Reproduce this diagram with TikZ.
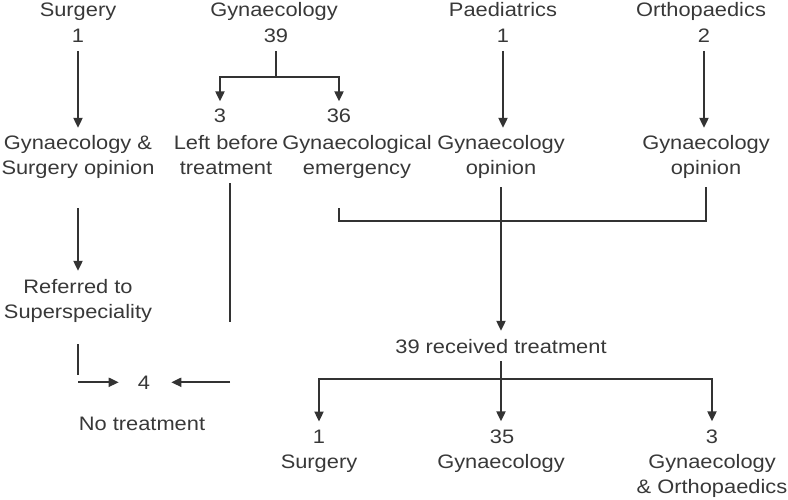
\documentclass[tikz,border=0pt]{standalone}
\usepackage{fontspec}
\setmainfont{Liberation Sans}[FakeStretch=1.12]
\usetikzlibrary{arrows.meta,positioning}
\definecolor{ink}{HTML}{333333}
\definecolor{txtgray}{HTML}{383838}

\begin{document}
\begin{tikzpicture}[
  x=1pt, y=-1pt,
  font=\fontsize{19.5}{25}\selectfont,
  lbl/.style={anchor=base, align=center, inner sep=0pt, outer ysep=8pt, text=txtgray},
  line/.style={draw=ink, line width=1.9pt},
  arr/.style={line, -{Triangle[length=10pt,width=9pt]}},
]
\useasboundingbox (0,0) rectangle (788,500);

% referring departments
\node[lbl] (surg) at (78,17) {Surgery};
\node[lbl] (surgN) at (78,43) {1};
\node[lbl] (gyn) at (274,17) {Gynaecology};
\node[lbl] (gynN) at (276,43) {39};
\node[lbl] (paed) at (503,17) {Paediatrics};
\node[lbl] (paedN) at (503,43) {1};
\node[lbl] (orth) at (701,17) {Orthopaedics};
\node[lbl] (orthN) at (704,43) {2};

% second row (base = last line)
\node[lbl] (surgop) at (78,175) {Gynaecology \&\\Surgery opinion};
\node[lbl] (g3) at (220,123) {3};
\node[lbl] (left) at (226,175) {Left before\\treatment};
\node[lbl] (g36) at (339,123) {36};
\node[lbl] (emerg) at (357,175) {Gynaecological\\emergency};
\node[lbl] (paop) at (501,175) {Gynaecology\\opinion};
\node[lbl] (orop) at (706,175) {Gynaecology\\opinion};

% outcome
\node[lbl] (ref) at (78,318) {Referred to\\Superspeciality};
\node[lbl] (four) at (144,389) {4};
\node[lbl] (notreat) at (142,430) {No treatment};
\node[lbl] (recv) at (501,353) {39 received treatment};
\node[lbl] (r1) at (319,443) {1};
\node[lbl] (r35) at (502,443) {35};
\node[lbl] (r3) at (712,443) {3};
\node[lbl] (rs) at (319,468) {Surgery};
\node[lbl] (rg) at (501,468) {Gynaecology};
\node[lbl] (rgo) at (712,493) {Gynaecology\\\& Orthopaedics};

\draw[arr] (surgN.south) -- (surgop.north);
\draw[line] (gynN.south) -- ++(0,26) coordinate (gfork);
\draw[arr] (gfork) -| (g3.north);
\draw[arr] (gfork) -| (g36.north);
\draw[arr] (paedN.south) -- (paedN.south |- paop.north);
\draw[arr] (orthN.south) -- (orthN.south |- orop.north);

\draw[arr] ([yshift=-21pt]surgop.south) -- (ref.north);
\draw[line] ([yshift=-14pt]ref.south) -- ++(0,31);
\draw[arr, shorten >=19pt] (ref.south |- four) -- (four.west);
\draw[line] ([xshift=4pt]left.south) -- ++(0,139) coordinate (leftend);
\draw[arr, shorten >=21pt] (leftend |- four) -- (four.east);

\coordinate (join) at ([yshift=-34pt]paop.south);
\draw[line] ([yshift=-21pt]g36.south |- emerg.south) |- (join) -| (orop.south);
\draw[arr] (paop.south) -- (recv.north);
\draw[line] (recv.south) -- ++(0,18) coordinate (rfork);
\draw[arr] (rfork) -| (r1.north);
\draw[arr] (rfork) -- (rfork |- r35.north);
\draw[arr] (rfork) -| (r3.north);
\end{tikzpicture}
\end{document}
